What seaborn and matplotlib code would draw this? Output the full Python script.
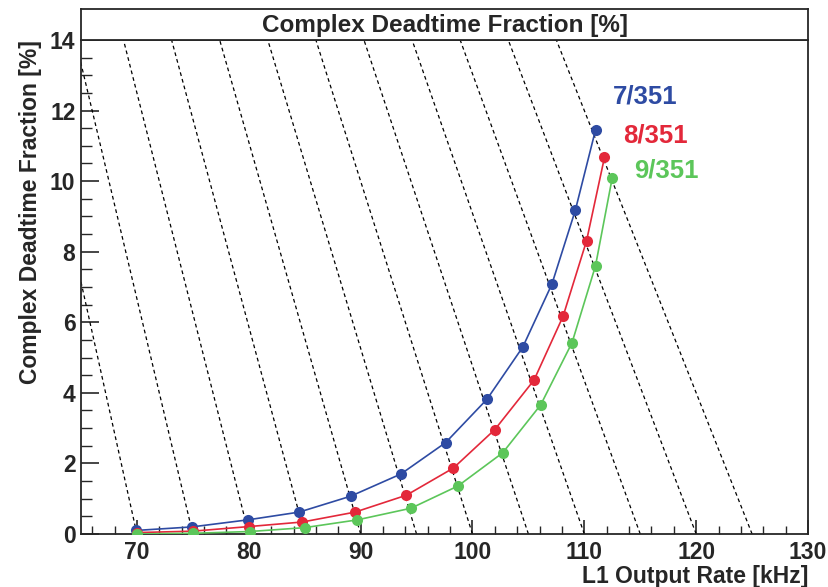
import numpy as np
import pandas as pd
import matplotlib
matplotlib.use("Agg")
import matplotlib.pyplot as plt
import seaborn as sns
from matplotlib.ticker import MultipleLocator

# --------------------------
# Data
# --------------------------

input_rates = [70, 75, 80, 85, 90, 95, 100, 105, 110, 115, 120, 125]

series_names = ["7/351", "8/351", "9/351"]

rate_7 = [69.9, 74.9, 79.9, 84.5, 89.1, 93.6, 97.6, 101.3, 104.5, 107.1, 109.2, 111.0]
frac_7 = [0.10, 0.20, 0.40, 0.62, 1.07, 1.70, 2.59, 3.82, 5.30, 7.08, 9.18, 11.45]

rate_8 = [70.0, 75.0, 80.0, 84.8, 89.5, 94.1, 98.3, 102.0, 105.5, 108.1, 110.2, 111.8]
frac_8 = [0.04, 0.08, 0.21, 0.34, 0.62, 1.10, 1.87, 2.96, 4.36, 6.17, 8.31, 10.67]

rate_9 = [70.0, 75.0, 80.1, 85.0, 89.7, 94.5, 98.7, 102.7, 106.1, 108.9, 111.0, 112.5]
frac_9 = [0.00, 0.02, 0.07, 0.18, 0.40, 0.73, 1.36, 2.30, 3.66, 5.42, 7.60, 10.10]

label_x = [115.4, 116.4, 117.3]
label_y = [12.4, 11.3, 10.3]

colors = ["#2e4ba3", "#e3283a", "#5cc65a"]

df = pd.DataFrame({
    "rate": rate_7 + rate_8 + rate_9,
    "frac": frac_7 + frac_8 + frac_9,
    "series": [series_names[0]] * len(rate_7)
              + [series_names[1]] * len(rate_8)
              + [series_names[2]] * len(rate_9),
})

# --------------------------
# Style
# --------------------------

sns.set_style("ticks")
plt.rcParams["font.family"] = ["Liberation Sans", "DejaVu Sans"]
plt.rcParams["font.weight"] = "bold"

fig = plt.figure(figsize=(8.29, 5.87), dpi=100)
ax = fig.add_axes([0.0977, 0.0903, 0.877, 0.8416])

# constant input rate lines: output = input * (1 - f)
y_top = 14.0
for r in input_rates:
    ax.plot([r, r * (1 - y_top / 100.0)], [0, y_top],
            color="black", lw=0.9, ls=(0, (3, 2.5)), zorder=1)

sns.lineplot(
    data=df,
    x="rate",
    y="frac",
    hue="series",
    palette=colors,
    marker="o",
    markersize=8,
    markeredgewidth=0,
    linewidth=1.2,
    sort=False,
    legend=False,
    ax=ax,
    zorder=3,
)

for name, c, lx, ly in zip(series_names, colors, label_x, label_y):
    ax.text(lx, ly, name, color=c, fontsize=18.5, fontweight="bold",
            ha="center", va="center")

ax.set_xlim(65, 130)
ax.set_ylim(0, 14)

ax.xaxis.set_major_locator(MultipleLocator(10))
ax.xaxis.set_minor_locator(MultipleLocator(2))
ax.yaxis.set_major_locator(MultipleLocator(2))
ax.yaxis.set_minor_locator(MultipleLocator(0.5))

ax.tick_params(axis="x", which="major", direction="in", length=10, width=1.2,
               labelsize=16.5, pad=5)
ax.tick_params(axis="x", which="minor", direction="in", length=6, width=1.0)
ax.tick_params(axis="y", which="major", direction="in", length=13, width=1.2,
               labelsize=16.5, pad=4)
ax.tick_params(axis="y", which="minor", direction="in", length=8, width=1.0)

for lab in ax.get_xticklabels() + ax.get_yticklabels():
    lab.set_fontweight("bold")

for sp in ax.spines.values():
    sp.set_linewidth(1.3)
    sp.set_visible(True)

ax.set_xlabel("L1 Output Rate [kHz]", fontsize=16.5, fontweight="bold",
              loc="right", labelpad=1)
ax.set_ylabel("Complex Deadtime Fraction [%]", fontsize=16.5, fontweight="bold",
              loc="top", labelpad=6)

# title box above the frame
tax = fig.add_axes([0.0977, 0.9319, 0.877, 0.0528])
tax.set_xticks([])
tax.set_yticks([])
for sp in tax.spines.values():
    sp.set_linewidth(1.3)
tax.text(0.5, 0.48, "Complex Deadtime Fraction [%]", fontsize=17.5,
         fontweight="bold", ha="center", va="center", transform=tax.transAxes)

fig.savefig("out.png", dpi=100)
plt.close(fig)
